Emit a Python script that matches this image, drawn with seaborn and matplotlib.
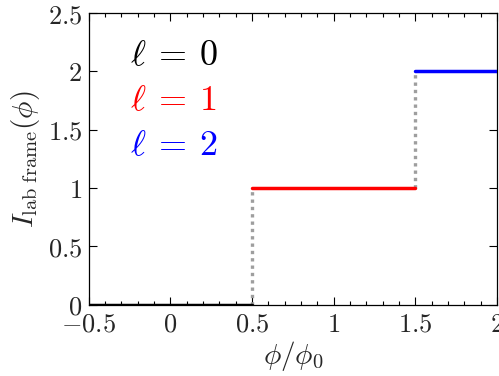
import numpy as np
import pandas as pd
import matplotlib
matplotlib.use("Agg")
import matplotlib.pyplot as plt
import seaborn as sns
from matplotlib.ticker import MultipleLocator, FixedLocator, FixedFormatter

# dados: patamares de corrente por setor l
ells = [0, 1, 2]
x_start = [-0.5, 0.5, 1.5]
x_end = [0.5, 1.5, 2.0]
levels = [0, 1, 2]
colors = ["black", "red", "blue"]

# saltos (linhas pontilhadas)
jump_x = [0.5, 1.5]
jump_lo = [0, 1]
jump_hi = [1, 2]

xticks = [-0.5, 0, 0.5, 1, 1.5, 2]
yticks = [0, 0.5, 1, 1.5, 2, 2.5]

sns.set_theme(style="ticks")
plt.rcParams["font.family"] = ["serif"]
plt.rcParams["mathtext.fontset"] = "cm"
plt.rcParams["xtick.direction"] = "in"
plt.rcParams["ytick.direction"] = "in"

fig, ax = plt.subplots(figsize=(4.99, 3.76), dpi=100)

for xj, lo, hi in zip(jump_x, jump_lo, jump_hi):
    seg = pd.DataFrame({"x": [xj, xj], "y": [lo, hi]})
    sns.lineplot(data=seg, x="x", y="y", ax=ax, color="0.62", lw=2.4,
                 linestyle=(0, (1.0, 1.2)), estimator=None, sort=False)

for xs, xe, lv, c in zip(x_start, x_end, levels, colors):
    seg = pd.DataFrame({"x": [xs, xe], "y": [lv, lv]})
    sns.lineplot(data=seg, x="x", y="y", ax=ax, color=c, lw=2.5,
                 estimator=None, sort=False, zorder=3)

for i, (l, c) in enumerate(zip(ells, colors)):
    ax.text(-0.25, 2.14 - 0.385 * i, rf"$\ell\:=\:{l}$", color=c,
            fontsize=26, va="center", ha="left")

ax.set_xlim(-0.5, 2)
ax.set_ylim(0, 2.5)
ax.xaxis.set_major_locator(FixedLocator(xticks))
ax.xaxis.set_major_formatter(FixedFormatter([rf"${t:g}$" for t in xticks]))
ax.xaxis.set_minor_locator(MultipleLocator(0.1))
ax.yaxis.set_major_locator(FixedLocator(yticks))
ax.yaxis.set_major_formatter(FixedFormatter([rf"${t:g}$" for t in yticks]))
ax.tick_params(which="both", top=True, right=True, labelsize=19, width=0.8,
               color="black", pad=5)
ax.tick_params(which="major", length=6)
ax.tick_params(which="minor", length=3)
for s in ax.spines.values():
    s.set_color("black")
    s.set_linewidth(0.9)

ax.set_xlabel(r"$\phi/\phi_0$", fontsize=21, labelpad=2)
ax.set_ylabel(r"$I_{\rm lab\ frame}(\phi)$", fontsize=21, labelpad=4)

fig.subplots_adjust(left=0.178, right=0.996, top=0.965, bottom=0.19)
fig.savefig("out.png", dpi=100, facecolor="white")
